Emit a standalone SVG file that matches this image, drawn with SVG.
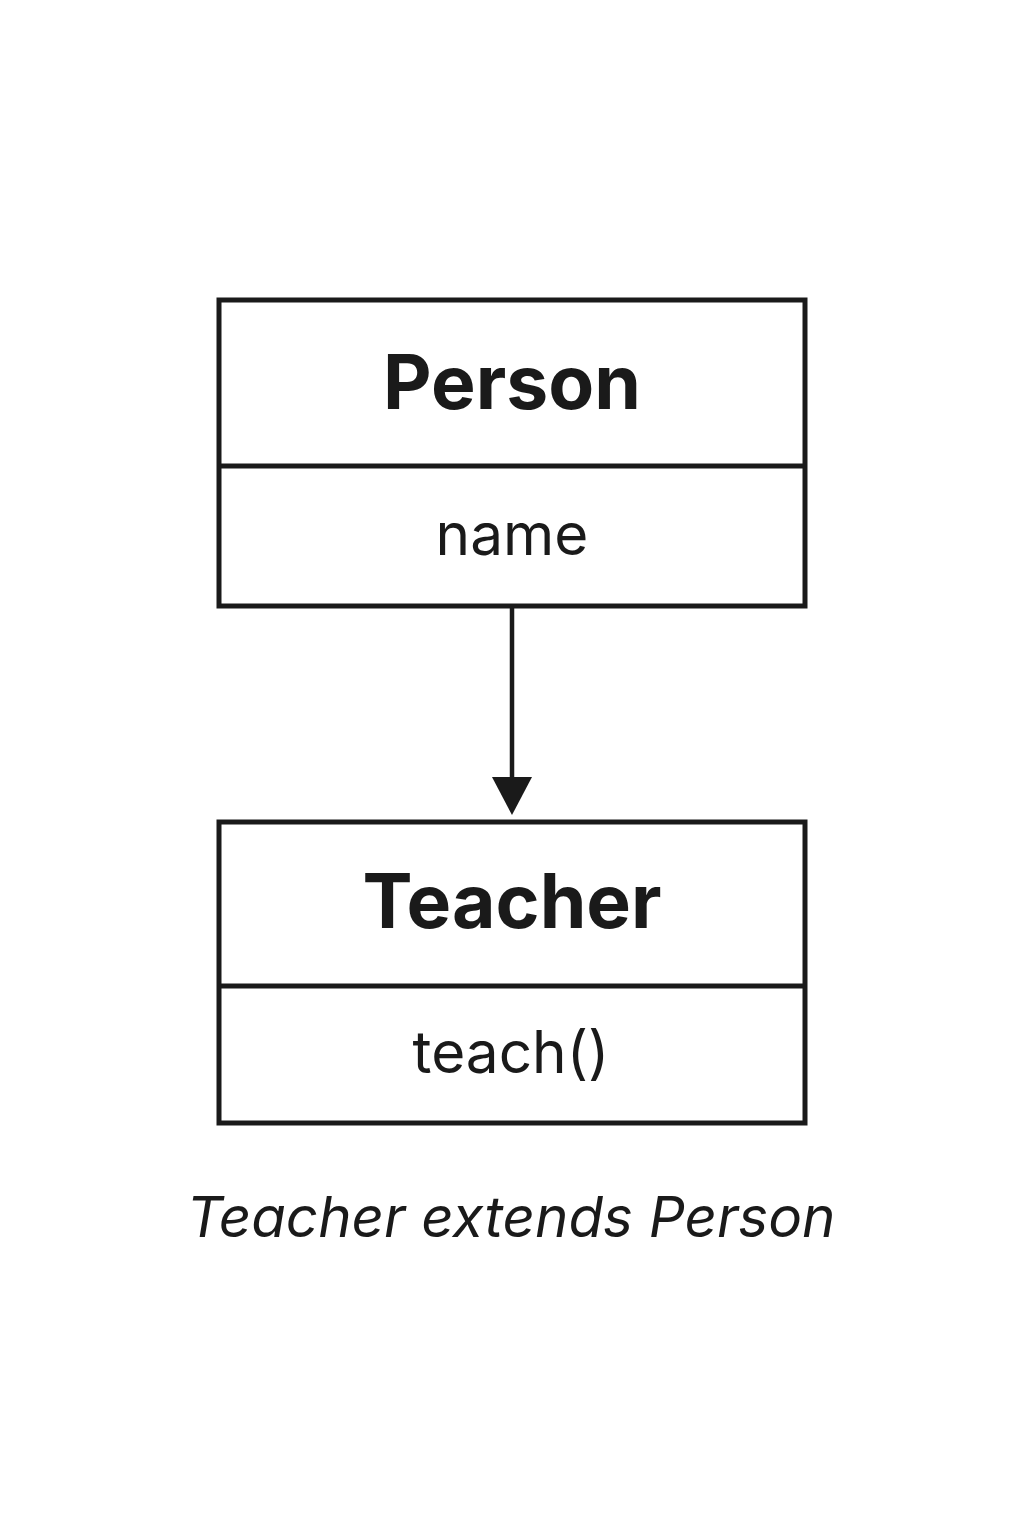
<svg xmlns="http://www.w3.org/2000/svg" width="1024" height="1536" viewBox="0 0 1024 1536">
<style>
.box{fill:#fff;stroke:#1a1a1a;stroke-width:5}
.div{stroke:#1a1a1a;stroke-width:5}
.title{font-family:Inter,"Liberation Sans",sans-serif;font-weight:700;font-size:75px;fill:#1a1a1a;text-anchor:middle}
.attr{font-family:Inter,"Liberation Sans",sans-serif;font-size:58.5px;fill:#1a1a1a;text-anchor:middle}
.cap{font-family:Inter,"Liberation Sans",sans-serif;font-style:italic;font-size:56.5px;fill:#1a1a1a;text-anchor:middle}
</style>
<rect width="1024" height="1536" fill="#fff"/>
<g id="person">
<rect class="box" x="219" y="300" width="586" height="306"/>
<line class="div" x1="219" y1="466" x2="805" y2="466"/>
<text class="title" x="512" y="409">Person</text>
<text class="attr" x="512" y="555">name</text>
</g>
<g id="teacher">
<rect class="box" x="219" y="822" width="586" height="301"/>
<line class="div" x1="219" y1="986" x2="805" y2="986"/>
<text class="title" x="512" y="928">Teacher</text>
<text class="attr" x="511" y="1073">teach()</text>
</g>
<g id="connectors">
<line x1="512" y1="606" x2="512" y2="780" stroke="#1a1a1a" stroke-width="4.5"/>
<polygon points="492,777 532,777 512,815" fill="#1a1a1a"/>
</g>
<text class="cap" x="511" y="1237">Teacher extends Person</text>
</svg>
